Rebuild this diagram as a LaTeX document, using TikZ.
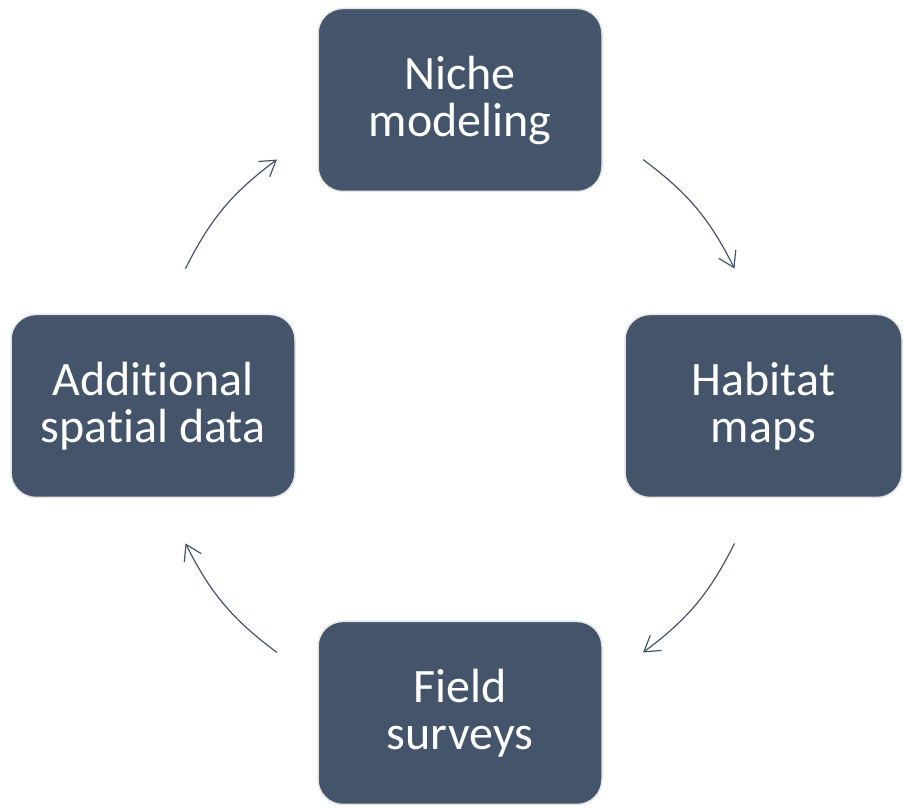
\documentclass[tikz,border=0pt]{standalone}
\usepackage{fontspec}
\setmainfont{Carlito}[Ligatures=NoCommon]
\usetikzlibrary{arrows.meta}
\definecolor{slate}{HTML}{44546A}
\definecolor{rim}{HTML}{E4E4E4}

\begin{document}
\begin{tikzpicture}[x=1pt, y=1pt,
  every node/.style={font=\fontsize{48}{47}\selectfont},
  block/.style={draw=rim, line width=1.5pt, fill=slate, text=white, rectangle, rounded corners=25pt,
    minimum width=284pt, minimum height=183pt, inner sep=0pt, align=center},
  flow/.style={draw=slate, line width=1.2pt, -{Straight Barb[length=15pt, width=19pt, line width=1.2pt]}}]

\useasboundingbox (0,0) rectangle (903,808);

\node[block] (niche) at (460,708) {Niche\\modeling};
\node[block, minimum width=277pt] (habitat) at (763.5,402) {Habitat\\maps};
\node[block] (field) at (460,95) {Field\\surveys};
\node[block] (spatial) at (153,402) {Additional\\spatial data};

% ring of arrows round the hub
\coordinate (hub) at (460,402);
\coordinate (nh1) at ([shift={(53.4:307)}]hub);
\coordinate (nh2) at ([shift={(26.6:307)}]hub);
\coordinate (hf1) at ([shift={(-26.6:307)}]hub);
\coordinate (hf2) at ([shift={(-53.4:307)}]hub);
\coordinate (fs1) at ([shift={(-126.6:307)}]hub);
\coordinate (fs2) at ([shift={(-153.4:307)}]hub);
\coordinate (sn1) at ([shift={(153.4:307)}]hub);
\coordinate (sn2) at ([shift={(126.6:307)}]hub);

\draw[flow] (nh1) to[bend left=13.4] (nh2);
\draw[flow] (hf1) to[bend left=13.4] (hf2);
\draw[flow] (fs1) to[bend left=13.4] (fs2);
\draw[flow] (sn1) to[bend left=13.4] (sn2);
\end{tikzpicture}
\end{document}
